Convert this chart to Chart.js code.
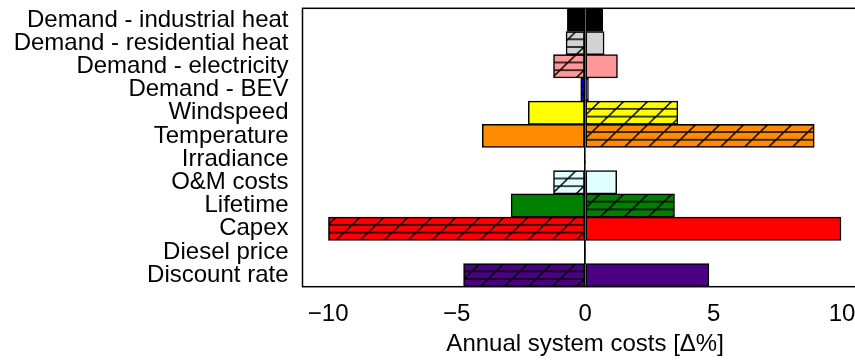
<!DOCTYPE html>
<html>
<head>
<meta charset="utf-8">
<style>
  html, body { margin: 0; padding: 0; overflow: hidden; background: #fff; }
  #wrap { width: 900px; height: 360px; position: relative; }
</style>
<script src="https://cdn.jsdelivr.net/npm/chart.js@4/dist/chart.umd.min.js"></script>
</head>
<body>
<div id="wrap"><canvas id="c"></canvas></div>
<script>
// Sensitivity of annual system costs to each input parameter
const categories = [
  'Demand - industrial heat', 'Demand - residential heat', 'Demand - electricity',
  'Demand - BEV', 'Windspeed', 'Temperature', 'Irradiance', 'O&M costs',
  'Lifetime', 'Capex', 'Diesel price', 'Discount rate'
];
// Change in annual system costs [%] when the parameter is lowered (hatched bars)
const loweredCase = [-0.69, -0.74, -1.23, -0.17, 3.61, 8.92, 0, -1.23, 3.48, -9.99, 0, -4.73];
// Change in annual system costs [%] when the parameter is raised (solid bars)
const raisedCase = [0.69, 0.74, 1.26, 0.13, -2.21, -4.00, 0, 1.23, -2.88, 9.96, 0, 4.82];
const barColors = [
  '#000000', '#d3d3d3', '#ff9999', '#0000ff', '#ffff00', '#ff8c00',
  '#ffd700', '#e0ffff', '#008000', '#ff0000', '#a52a2a', '#4b0082'
];
const xTicks = [-10, -5, 0, 5, 10];

const FONT = { family: '"Liberation Sans", Arial, sans-serif', size: 24 };

// Hatch fill: horizontal stripes plus 45° diagonals, drawn over the bar colour
const TILE = 24;
function makeHatch(color) {
  const t = document.createElement('canvas');
  t.width = TILE; t.height = TILE;
  const g = t.getContext('2d');
  g.fillStyle = color;
  g.fillRect(0, 0, TILE, TILE);
  g.strokeStyle = '#000';
  g.lineWidth = 1.5;
  g.beginPath();
  for (const y of [0, 8, 16, 24]) { g.moveTo(0, y); g.lineTo(TILE, y); }
  for (const o of [-TILE, 0, TILE]) { g.moveTo(o, TILE); g.lineTo(o + TILE, 0); }
  g.stroke();
  return g.createPattern(t, 'repeat');
}
const hatchFills = barColors.map(makeHatch);

// Align the hatch rows with the category bands of the y axis
const hatchAlign = {
  id: 'hatchAlign',
  beforeDatasetsDraw(chart) {
    const { top, bottom } = chart.chartArea;
    const band = (bottom - top) / categories.length;
    const m = new DOMMatrix().translate(0, top).scale(1, band / TILE);
    hatchFills.forEach(p => p.setTransform(m));
  }
};

// Axes frame around the plotting area
const frame = {
  id: 'frame',
  afterDraw(chart) {
    const { left, top, right, bottom } = chart.chartArea;
    const ctx = chart.ctx;
    ctx.save();
    ctx.strokeStyle = '#000';
    ctx.lineWidth = 1.5;
    ctx.strokeRect(left, top, right - left, bottom - top);
    ctx.restore();
  }
};

const zeroWidth = arr => arr.map(v => (v === 0 ? 0 : 1.5));

new Chart(document.getElementById('c'), {
  type: 'bar',
  data: {
    labels: categories,
    datasets: [
      {
        label: 'Parameter lowered',
        data: loweredCase,
        backgroundColor: hatchFills,
        borderColor: '#000',
        borderWidth: zeroWidth(loweredCase),
        borderSkipped: false,
        grouped: false,
        barPercentage: 1,
        categoryPercentage: 1
      },
      {
        label: 'Parameter raised',
        data: raisedCase,
        backgroundColor: barColors,
        borderColor: '#000',
        borderWidth: zeroWidth(raisedCase),
        borderSkipped: false,
        grouped: false,
        barPercentage: 1,
        categoryPercentage: 1
      }
    ]
  },
  options: {
    indexAxis: 'y',
    responsive: true,
    maintainAspectRatio: false,
    animation: false,
    devicePixelRatio: 1,
    layout: { padding: { top: 8.3, right: 32.3, left: 0, bottom: 0 } },
    plugins: { legend: { display: false }, tooltip: { enabled: false } },
    scales: {
      x: {
        type: 'linear',
        min: -11,
        max: 11,
        afterBuildTicks: s => { s.ticks = xTicks.map(v => ({ value: v })); },
        afterFit: s => { s.height = 73.3; s.paddingLeft = 0; s.paddingRight = 0; },
        ticks: {
          font: FONT,
          color: '#000',
          padding: 13,
          callback: v => String(v).replace('-', '\u2212')
        },
        grid: {
          color: c => (c.tick && c.tick.value === 0 ? '#000' : 'rgba(0,0,0,0)'),
          lineWidth: 1.5,
          drawTicks: false,
          z: 1
        },
        border: { display: false },
        title: {
          display: true,
          text: 'Annual system costs [Δ%]',
          font: FONT,
          color: '#000',
          padding: { top: 0, bottom: 1 }
        }
      },
      y: {
        type: 'category',
        afterFit: s => { s.width = 302.5; s.paddingTop = 0; s.paddingBottom = 0; },
        ticks: { font: FONT, color: '#000', padding: 14, autoSkip: false },
        grid: { display: false, drawTicks: false },
        border: { display: false }
      }
    }
  },
  plugins: [hatchAlign, frame]
});
</script>
</body>
</html>
